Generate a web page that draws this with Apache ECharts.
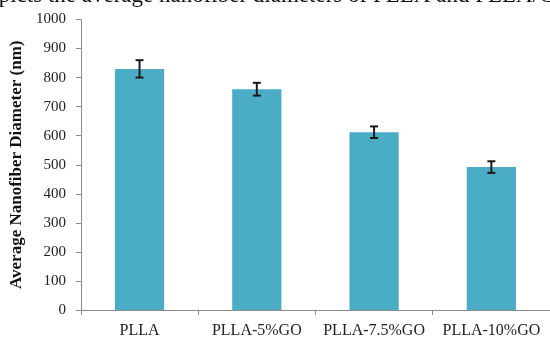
<!DOCTYPE html>
<html>
<head>
<meta charset="utf-8">
<script src="https://cdn.jsdelivr.net/npm/echarts@6/dist/echarts.min.js"></script>
<style>html,body{margin:0;padding:0;background:#fff}#c{width:550px;height:339px}</style>
</head>
<body>
<div id="c"></div>
<script>
var categories = ['PLLA', 'PLLA-5%GO', 'PLLA-7.5%GO', 'PLLA-10%GO'];
var meanDiameter = [830, 760, 612, 492];
var errorSize = [30, 22, 20, 20];
var yTicks = {min: 0, max: 1000, interval: 100};
var headerText = 'depicts the average nanofiber diameters of PLLA and PLLA/GO';

var chart = echarts.init(document.getElementById('c'), null, {renderer: 'canvas'});
var serif = '"Liberation Serif", "DejaVu Serif", serif';
var errData = categories.map(function (c, i) {
  return [i, meanDiameter[i] - errorSize[i], meanDiameter[i] + errorSize[i]];
});
chart.setOption({
  animation: false,
  graphic: [{
    type: 'text', left: -23, top: -16,
    style: {text: headerText, font: '23px ' + serif, fill: '#111'}
  }],
  grid: {left: 76, right: 0, top: 19.5, bottom: 26},
  xAxis: {
    type: 'category', data: categories,
    axisLine: {lineStyle: {color: '#8c8c8c', width: 1}},
    axisTick: {show: true, length: 5, inside: false, lineStyle: {color: '#8c8c8c'}},
    axisLabel: {fontFamily: serif, fontSize: 16, color: '#222', margin: 13, interval: 0}
  },
  yAxis: {
    type: 'value', min: yTicks.min, max: yTicks.max, interval: yTicks.interval,
    name: 'Average Nanofiber Diameter (nm)', nameLocation: 'middle', nameGap: 48,
    nameTextStyle: {fontFamily: serif, fontSize: 17, fontWeight: 'bold', color: '#111'},
    axisLine: {show: true, lineStyle: {color: '#8c8c8c', width: 1}},
    axisTick: {show: true, length: 5, lineStyle: {color: '#8c8c8c'}},
    splitLine: {show: false},
    axisLabel: {fontFamily: serif, fontSize: 15, color: '#222', margin: 15,
      formatter: function (v) { return String(v); }}
  },
  series: [{
    type: 'bar', data: meanDiameter, barWidth: '42%',
    itemStyle: {color: '#4BACC6'}
  }, {
    type: 'custom', data: errData, z: 10,
    renderItem: function (params, api) {
      var x = api.value(0);
      var lo = api.coord([x, api.value(1)]);
      var hi = api.coord([x, api.value(2)]);
      var hw = 4;
      var st = {stroke: '#1a1a1a', lineWidth: 2};
      return {type: 'group', children: [
        {type: 'line', shape: {x1: lo[0], y1: lo[1], x2: hi[0], y2: hi[1]}, style: st},
        {type: 'line', shape: {x1: lo[0] - hw, y1: lo[1], x2: lo[0] + hw, y2: lo[1]}, style: st},
        {type: 'line', shape: {x1: hi[0] - hw, y1: hi[1], x2: hi[0] + hw, y2: hi[1]}, style: st}
      ]};
    }
  }]
});
</script>
</body>
</html>
